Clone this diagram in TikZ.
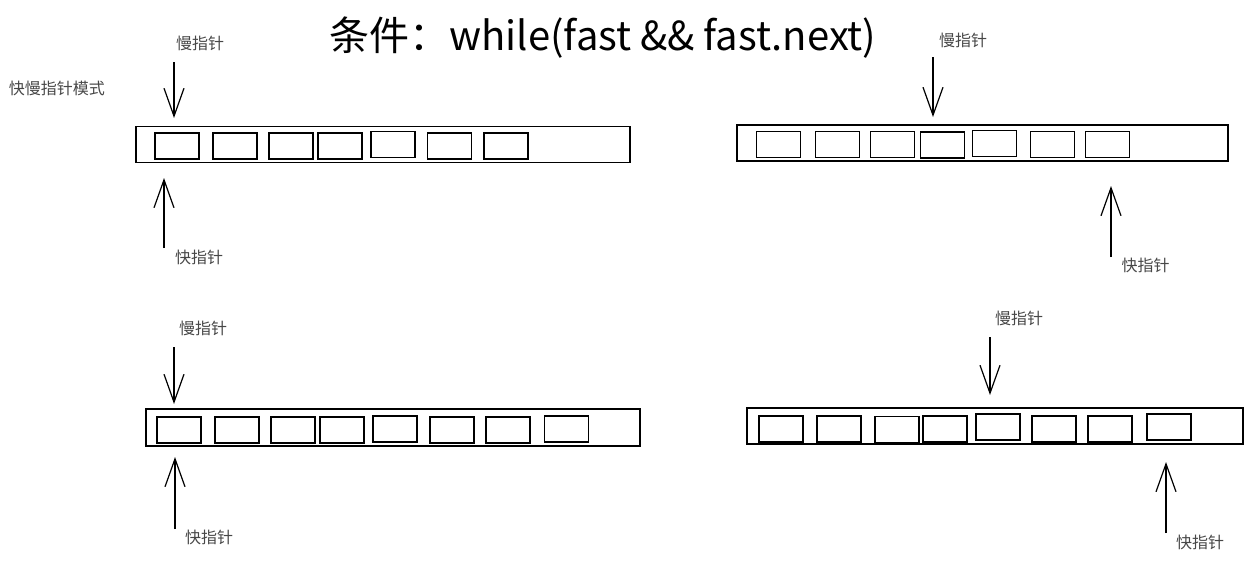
\documentclass[tikz,border=0pt]{standalone}
\usepackage{fontspec}
\setmainfont{Noto Sans CJK SC}
\usetikzlibrary{arrows.meta}
\begin{document}
\begin{tikzpicture}[x=0.5pt, y=-0.5pt,
  cell/.style={draw, line width=0.6pt, minimum width=22pt, minimum height=13pt, inner sep=0pt},
  strip/.style={draw, line width=0.75pt, minimum height=18pt, inner sep=0pt},
  ptr/.style={line width=0.6pt, -{Straight Barb[length=14pt, width=10pt]}},
  lbl/.style={font=\fontsize{8}{9}\selectfont, text=black!72, inner sep=0pt}]
\useasboundingbox (0,0) rectangle (1252,562);

% Title and side note
\node[font=\fontsize{20}{23}\selectfont, inner sep=0pt] (title) at (603,38) {条件：while(fast \&\& fast.next)};
\node[lbl] (mode) at (57,88) {快慢指针模式};

% Top left list
\node[strip, minimum width=247pt] (listA) at (383,144.5) {};
\node[cell] (a1) at (177,146) {};
\node[cell] (a2) at (235,146) {};
\node[cell] (a3) at (291,146) {};
\node[cell] (a4) at (340,146) {};
\node[cell] (a5) at (393,144.5) {};
\node[cell] (a6) at (449.5,146) {};
\node[cell] (a7) at (506,146) {};
\node[lbl] (slowA) at (200,43) {慢指针};
\node[lbl] (fastA) at (199,257) {快指针};
\coordinate (sA) at (174,62);
\coordinate (sAtip) at (174,118);
\coordinate (fA) at (164,248);
\coordinate (fAtip) at (164,178);
\draw[ptr] (sA) -- (sAtip);
\draw[ptr] (fA) -- (fAtip);

% Top right list
\node[strip, minimum width=245.5pt] (listB) at (982.5,143) {};
\node[cell] (b1) at (778.5,144.5) {};
\node[cell] (b2) at (837.5,144.5) {};
\node[cell] (b3) at (892.5,144.5) {};
\node[cell] (b4) at (942.5,145) {};
\node[cell] (b5) at (994.5,143.5) {};
\node[cell] (b6) at (1052.5,144.5) {};
\node[cell] (b7) at (1107.5,144.5) {};
\node[lbl] (slowB) at (963,40) {慢指针};
\node[lbl] (fastB) at (1145.5,265) {快指针};
\coordinate (sB) at (933,57);
\coordinate (sBtip) at (933,117);
\coordinate (fB) at (1111,257);
\coordinate (fBtip) at (1111,186);
\draw[ptr] (sB) -- (sBtip);
\draw[ptr] (fB) -- (fBtip);

% Bottom left list
\node[strip, minimum width=247pt, minimum height=18.5pt] (listC) at (393,427.5) {};
\node[cell] (c1) at (179,430) {};
\node[cell] (c2) at (237,430) {};
\node[cell] (c3) at (293,430) {};
\node[cell] (c4) at (342,430) {};
\node[cell] (c5) at (395,429) {};
\node[cell] (c6) at (452,430) {};
\node[cell] (c7) at (508,430) {};
\node[cell] (c8) at (566.5,429) {};
\node[lbl] (slowC) at (203,328) {慢指针};
\node[lbl] (fastC) at (209,537) {快指针};
\coordinate (sC) at (174,347);
\coordinate (sCtip) at (174,404);
\coordinate (fC) at (175,529);
\coordinate (fCtip) at (175,457);
\draw[ptr] (sC) -- (sCtip);
\draw[ptr] (fC) -- (fCtip);

% Bottom right list
\node[strip, minimum width=248pt] (listD) at (995,426) {};
\node[cell] (d1) at (781,429) {};
\node[cell] (d2) at (839,429) {};
\node[cell] (d3) at (897,429.5) {};
\node[cell] (d4) at (945,429) {};
\node[cell] (d5) at (998,427) {};
\node[cell] (d6) at (1054,429) {};
\node[cell] (d7) at (1110,429) {};
\node[cell, line width=0.8pt] (d8) at (1169,427) {};
\node[lbl] (slowD) at (1019,318) {慢指针};
\node[lbl] (fastD) at (1200,542) {快指针};
\coordinate (sD) at (990,337);
\coordinate (sDtip) at (990,395);
\coordinate (fD) at (1166,533);
\coordinate (fDtip) at (1166,462);
\draw[ptr] (sD) -- (sDtip);
\draw[ptr] (fD) -- (fDtip);
\end{tikzpicture}
\end{document}
